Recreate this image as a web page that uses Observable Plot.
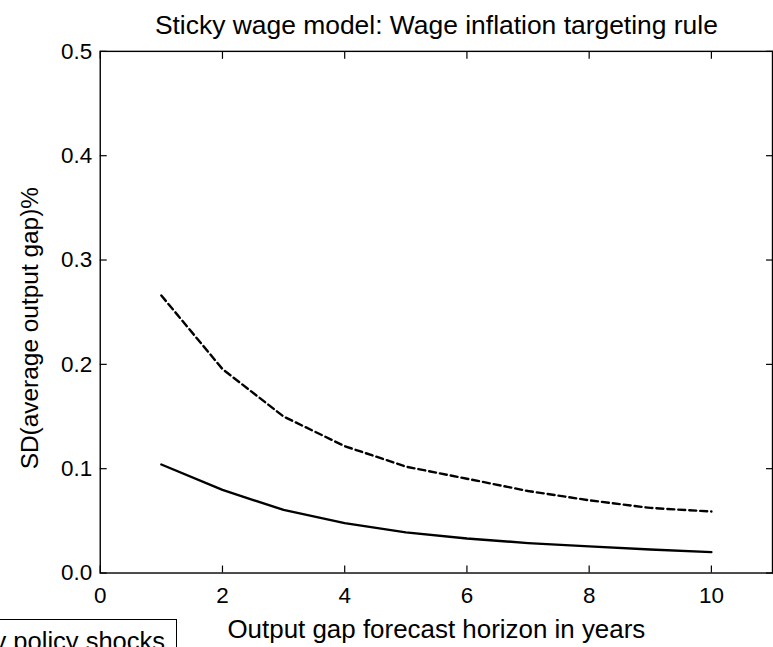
<!DOCTYPE html>
<html>
<head>
<meta charset="utf-8">
<script src="https://cdn.jsdelivr.net/npm/d3@7"></script>
<script src="https://cdn.jsdelivr.net/npm/@observablehq/plot@0.6"></script>
<style>
  html, body { margin: 0; padding: 0; background: white; }
  #wrap { position: relative; width: 773px; height: 647px; overflow: hidden; background: white; }
  #legend {
    position: absolute; top: 619px; right: 596px;
    border: 1px solid black; background: white;
    font-family: "Liberation Sans", Arial, sans-serif; font-size: 25.5px;
    padding: 7px 11px 20px 10px; white-space: nowrap; color: black;
  }
</style>
</head>
<body>
<div id="wrap"><div id="chart"></div><div id="legend">Monetary policy shocks</div></div>
<script>
const title = "Sticky wage model: Wage inflation targeting rule";
const xLabel = "Output gap forecast horizon in years";
const yLabel = "SD(average output gap)%";
const horizons = [1, 2, 3, 4, 5, 6, 7, 8, 9, 10];
const solidValues = [0.104, 0.0796, 0.0605, 0.0478, 0.0389, 0.0331, 0.0287, 0.0255, 0.0226, 0.0200];
const dashedValues = [0.266, 0.1955, 0.150, 0.1216, 0.102, 0.0904, 0.0786, 0.0697, 0.0624, 0.0589];
const xTicks = [0, 2, 4, 6, 8, 10];
const yTicks = [0, 0.1, 0.2, 0.3, 0.4, 0.5];

const solidData = horizons.map((h, i) => ({h, v: solidValues[i]}));
const dashedData = horizons.map((h, i) => ({h, v: dashedValues[i]}));

const chart = Plot.plot({
  width: 775,
  height: 647,
  marginLeft: 100,
  marginRight: 1,
  marginTop: 51,
  marginBottom: 73,
  style: {fontFamily: "'Liberation Sans', Arial, sans-serif", fontSize: "22px", color: "black", background: "white"},
  x: {domain: [0, 11]},
  y: {domain: [0, 0.5]},
  marks: [
    Plot.frame({stroke: "black", strokeWidth: 1.4}),
    Plot.axisX({ticks: xTicks, tickSize: -7, tickPadding: 21, tickFormat: d3.format("d"), label: null, strokeWidth: 1.2, fontSize: 22.5}),
    Plot.axisX({ticks: [], label: xLabel, labelAnchor: "center", labelOffset: 65, labelArrow: "none", fontSize: 26}),
    Plot.axisX({anchor: "top", ticks: xTicks, tickSize: -7, tickFormat: () => "", label: null, strokeWidth: 1.2}),
    Plot.axisY({ticks: yTicks, tickSize: -7, tickPadding: 15, tickFormat: d3.format(".1f"), label: null, strokeWidth: 1.2, fontSize: 22.5}),
    Plot.axisY({anchor: "right", ticks: yTicks, tickSize: -7, tickFormat: () => "", label: null, strokeWidth: 1.2}),
    Plot.line(dashedData, {x: "h", y: "v", stroke: "black", strokeWidth: 2.4, strokeDasharray: "7,4"}),
    Plot.line(solidData, {x: "h", y: "v", stroke: "black", strokeWidth: 2.4}),
    Plot.text([yLabel], {text: d => d, frameAnchor: "left", textAnchor: "middle", lineAnchor: "middle", rotate: -90, dx: -70, dy: 16, fontSize: 24.5}),
    Plot.text([title], {text: d => d, frameAnchor: "top", dy: -36, fontSize: 26.5})
  ]
});
document.getElementById("chart").appendChild(chart);
</script>
</body>
</html>
